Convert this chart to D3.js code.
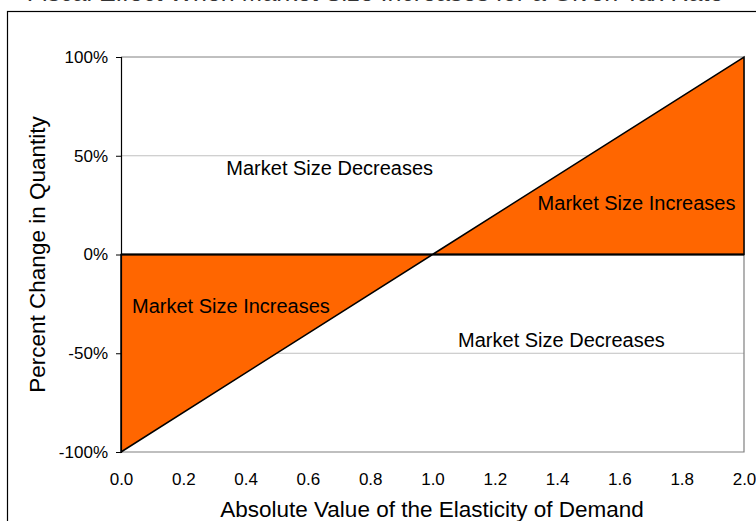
<!DOCTYPE html>
<html>
<head>
<meta charset="utf-8">
<script src="https://cdn.jsdelivr.net/npm/d3@7"></script>
<style>
  body { margin: 0; background: #fff; }
  svg { display: block; font-family: "Liberation Sans", Arial, sans-serif; }
</style>
</head>
<body>
<div id="chart"></div>
<script>
// chart values
const elasticity = [0, 1, 2];
const pctChange = [-1, 0, 1];
const xTicks = [0, 0.2, 0.4, 0.6, 0.8, 1.0, 1.2, 1.4, 1.6, 1.8, 2.0];
const yTicks = [-1, -0.5, 0, 0.5, 1];
const noteLabels = ["Market Size Decreases", "Market Size Increases", "Market Size Increases", "Market Size Decreases"];
const noteX = [0.67, 1.655, 0.353, 1.414];
const noteY = [0.44, 0.263, -0.263, -0.435];

const W = 756, H = 521;
const plot = { left: 121, right: 744, top: 57, bottom: 452 };

const svg = d3.select("#chart").append("svg")
    .attr("width", W)
    .attr("height", H);

// title, mostly cut off by the top of the picture
svg.append("text")
    .attr("x", 375)
    .attr("y", 1)
    .attr("text-anchor", "middle")
    .attr("font-size", 25)
    .attr("fill", "#333")
    .text("Fiscal Effect When Market Size Increases for a Given Tax Rate");

// outer frame
svg.append("rect")
    .attr("x", 7.5).attr("y", 11.5)
    .attr("width", W + 20).attr("height", H + 20)
    .attr("fill", "none")
    .attr("stroke", "#000")
    .attr("stroke-width", 1.2);

const x = d3.scaleLinear().domain([0, 2]).range([plot.left, plot.right]);
const y = d3.scaleLinear().domain([-1, 1]).range([plot.bottom, plot.top]);

// gridlines
svg.append("g")
    .selectAll("line")
    .data(yTicks.filter(d => d !== 0 && d !== -1))
    .enter().append("line")
    .attr("x1", plot.left).attr("x2", plot.right)
    .attr("y1", d => y(d)).attr("y2", d => y(d))
    .attr("stroke", d => d === 1 ? "#808080" : "#c0c0c0")
    .attr("stroke-width", 1);

// plot border right and bottom
svg.append("path")
    .attr("d", `M${plot.left},${plot.bottom}H${plot.right}V${plot.top}`)
    .attr("fill", "none")
    .attr("stroke", "#808080")
    .attr("stroke-width", 1.2);

// the area between the line and zero
const area = d3.area()
    .x((d, i) => x(elasticity[i]))
    .y0(() => y(0))
    .y1(d => y(d));

svg.append("path")
    .datum(pctChange)
    .attr("d", area)
    .attr("fill", "#ff6600")
    .attr("stroke", "#000")
    .attr("stroke-width", 1.5)
    .attr("stroke-linejoin", "miter");

// zero line across
svg.append("line")
    .attr("x1", x(0)).attr("x2", x(2))
    .attr("y1", y(0)).attr("y2", y(0))
    .attr("stroke", "#000")
    .attr("stroke-width", 2);

// y axis
const yAxis = svg.append("g")
    .attr("transform", `translate(${plot.left},0)`)
    .call(d3.axisLeft(y).tickValues(yTicks).tickSize(5).tickPadding(8)
        .tickFormat(d => Math.round(d * 100) + "%"));
yAxis.select(".domain").attr("stroke", "#000").attr("stroke-width", 1.2);
yAxis.selectAll(".tick line").attr("stroke", "#000");
yAxis.selectAll("text")
    .attr("font-size", 17)
    .attr("font-family", "Liberation Sans, Arial, sans-serif")
    .attr("fill", "#000");

// x axis labels only
const xAxis = svg.append("g")
    .attr("transform", `translate(0,${plot.bottom})`)
    .call(d3.axisBottom(x).tickValues(xTicks).tickSize(0).tickPadding(21)
        .tickFormat(d3.format(".1f")));
xAxis.select(".domain").remove();
xAxis.selectAll("text")
    .attr("font-size", 17)
    .attr("font-family", "Liberation Sans, Arial, sans-serif")
    .attr("fill", "#000");

// axis titles
svg.append("text")
    .attr("x", 432)
    .attr("y", 517)
    .attr("text-anchor", "middle")
    .attr("font-size", 22.5)
    .text("Absolute Value of the Elasticity of Demand");

svg.append("text")
    .attr("transform", `translate(45,${y(0)}) rotate(-90)`)
    .attr("text-anchor", "middle")
    .attr("font-size", 22.5)
    .text("Percent Change in Quantity");

// region notes
svg.append("g")
    .selectAll("text")
    .data(noteLabels)
    .enter().append("text")
    .attr("x", (d, i) => x(noteX[i]))
    .attr("y", (d, i) => y(noteY[i]))
    .attr("dy", "0.35em")
    .attr("text-anchor", "middle")
    .attr("font-size", 20)
    .text(d => d);
</script>
</body>
</html>
